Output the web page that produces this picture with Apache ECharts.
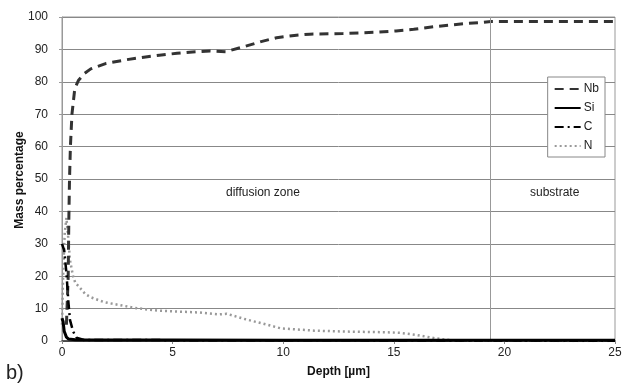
<!DOCTYPE html>
<html><head><meta charset="utf-8">
<script src="https://cdn.jsdelivr.net/npm/echarts@6/dist/echarts.min.js"></script>
<style>html,body{margin:0;padding:0;background:#fff}#c{width:629px;height:390px}</style>
</head><body><div id="c"></div>
<script>
var xTicks = [0, 5, 10, 15, 20, 25];
var yTicks = [0, 10, 20, 30, 40, 50, 60, 70, 80, 90, 100];
var substrateBoundary = 19.38;
var nb = [[0.2,5],[0.28,20],[0.31,38],[0.34,50],[0.38,60],[0.45,70],[0.58,78],[0.75,80.5],[1.0,82.5],[1.3,84],[2.0,85.7],[2.9,86.8],[3.7,87.6],[4.4,88.2],[5.2,88.8],[5.9,89.2],[6.7,89.5],[7.4,89.3],[8.2,90.8],[9.0,92.4],[9.7,93.6],[10.5,94.3],[11.2,94.7],[12.7,94.9],[14.2,95.3],[15.1,95.7],[15.9,96.2],[16.8,97],[17.5,97.5],[18.3,98],[19.0,98.3],[19.4,98.6],[25,98.6]];
var si = [[0,7],[0.05,6],[0.1,3],[0.2,1.2],[0.3,0.6],[0.6,0.4],[2,0.3],[5,0.3],[10,0.2],[25,0.2]];
var c = [[0,30],[0.1,28],[0.2,21],[0.29,12],[0.36,6.5],[0.5,3],[0.65,1],[1,0.3],[25,0.1]];
var n = [[0,5],[0.05,20],[0.12,33],[0.2,38],[0.28,32],[0.36,25],[0.5,20],[0.6,18],[0.8,16.5],[1.05,14.5],[1.3,13.5],[1.9,12],[2.6,11.1],[3.4,10.1],[4.3,9.4],[5.2,9.1],[6.2,8.8],[7.1,8.2],[7.45,8.4],[8.3,6.7],[9.0,5.5],[9.9,3.9],[11.4,3.2],[12.9,2.9],[14.7,2.7],[15.3,2.5],[16.0,1.9],[16.9,0.8],[17.8,0.1],[25,0]];

var chart = echarts.init(document.getElementById('c'));
var font = 'Liberation Sans, Arial, sans-serif';
chart.setOption({
  animation: false,
  textStyle: {fontFamily: font},
  grid: {left: 62, right: 14, top: 17, bottom: 49, show: true, borderColor: '#999', borderWidth: 1},
  xAxis: {type: 'value', min: xTicks[0], max: xTicks[xTicks.length-1], interval: 5,
    name: 'Depth [µm]', nameLocation: 'middle', nameGap: 25,
    nameTextStyle: {fontWeight: 'bold', fontSize: 12, color: '#111', fontFamily: font},
    axisLine: {lineStyle: {color: '#333', width: 1.5}},
    axisTick: {show: true, length: 3, inside: false, lineStyle: {color: '#888'}},
    axisLabel: {fontSize: 12, color: '#222', margin: 6, fontFamily: font},
    splitLine: {show: false}},
  yAxis: {type: 'value', min: yTicks[0], max: yTicks[yTicks.length-1], interval: 10,
    axisLine: {show: true, lineStyle: {color: '#999'}},
    axisTick: {show: true, length: 3, lineStyle: {color: '#999'}},
    axisLabel: {fontSize: 12, color: '#222', margin: 14, fontFamily: font},
    splitLine: {show: true, lineStyle: {color: '#888', width: 1}}},
  legend: {right: 24, top: 77, orient: 'vertical', align: 'left',
    backgroundColor: '#fff', borderColor: '#888', borderWidth: 1, borderRadius: 0,
    padding: [6, 6, 5, 6], itemGap: 7, itemWidth: 26, itemHeight: 8,
    itemStyle: {opacity: 0},
    textStyle: {fontSize: 12, color: '#222', fontFamily: font, padding: [0,0,0,-2]},
    data: ['Nb', 'Si', 'C', 'N']},
  graphic: [
    {type: 'text', x: 20, y: 180, rotation: Math.PI / 2,
      style: {text: 'Mass percentage', font: 'bold 12px ' + font, fill: '#111', align: 'center', verticalAlign: 'middle'}},
    {type: 'text', left: 226, top: 187, style: {text: 'diffusion zone', font: '12px ' + font, fill: '#222'}},
    {type: 'text', left: 530, top: 187, style: {text: 'substrate', font: '12px ' + font, fill: '#222'}},
    {type: 'text', left: 6, top: 363, style: {text: 'b)', font: '20px ' + font, fill: '#222'}}
  ],
  series: [
    {name: 'Nb', type: 'line', data: nb, showSymbol: false, symbol: 'none',
      lineStyle: {color: '#333', width: 3, type: [9, 6]}, itemStyle: {color: '#333'}, z: 4,
      markLine: {silent: true, symbol: 'none', label: {show: false},
        lineStyle: {color: '#999', width: 1, type: 'solid'}, data: [{xAxis: substrateBoundary}]}},
    {name: 'Si', type: 'line', data: si, showSymbol: false, symbol: 'none',
      lineStyle: {color: '#000', width: 3, type: 'solid'}, itemStyle: {color: '#000'}, z: 5},
    {name: 'C', type: 'line', data: c, showSymbol: false, symbol: 'none',
      lineStyle: {color: '#000', width: 2.5, type: [9, 4, 2, 4]}, itemStyle: {color: '#000'}, z: 5},
    {name: 'N', type: 'line', data: n, showSymbol: false, symbol: 'none',
      lineStyle: {color: '#999', width: 2.5, type: [2, 3]}, itemStyle: {color: '#999'}, z: 3}
  ]
});
</script></body></html>
